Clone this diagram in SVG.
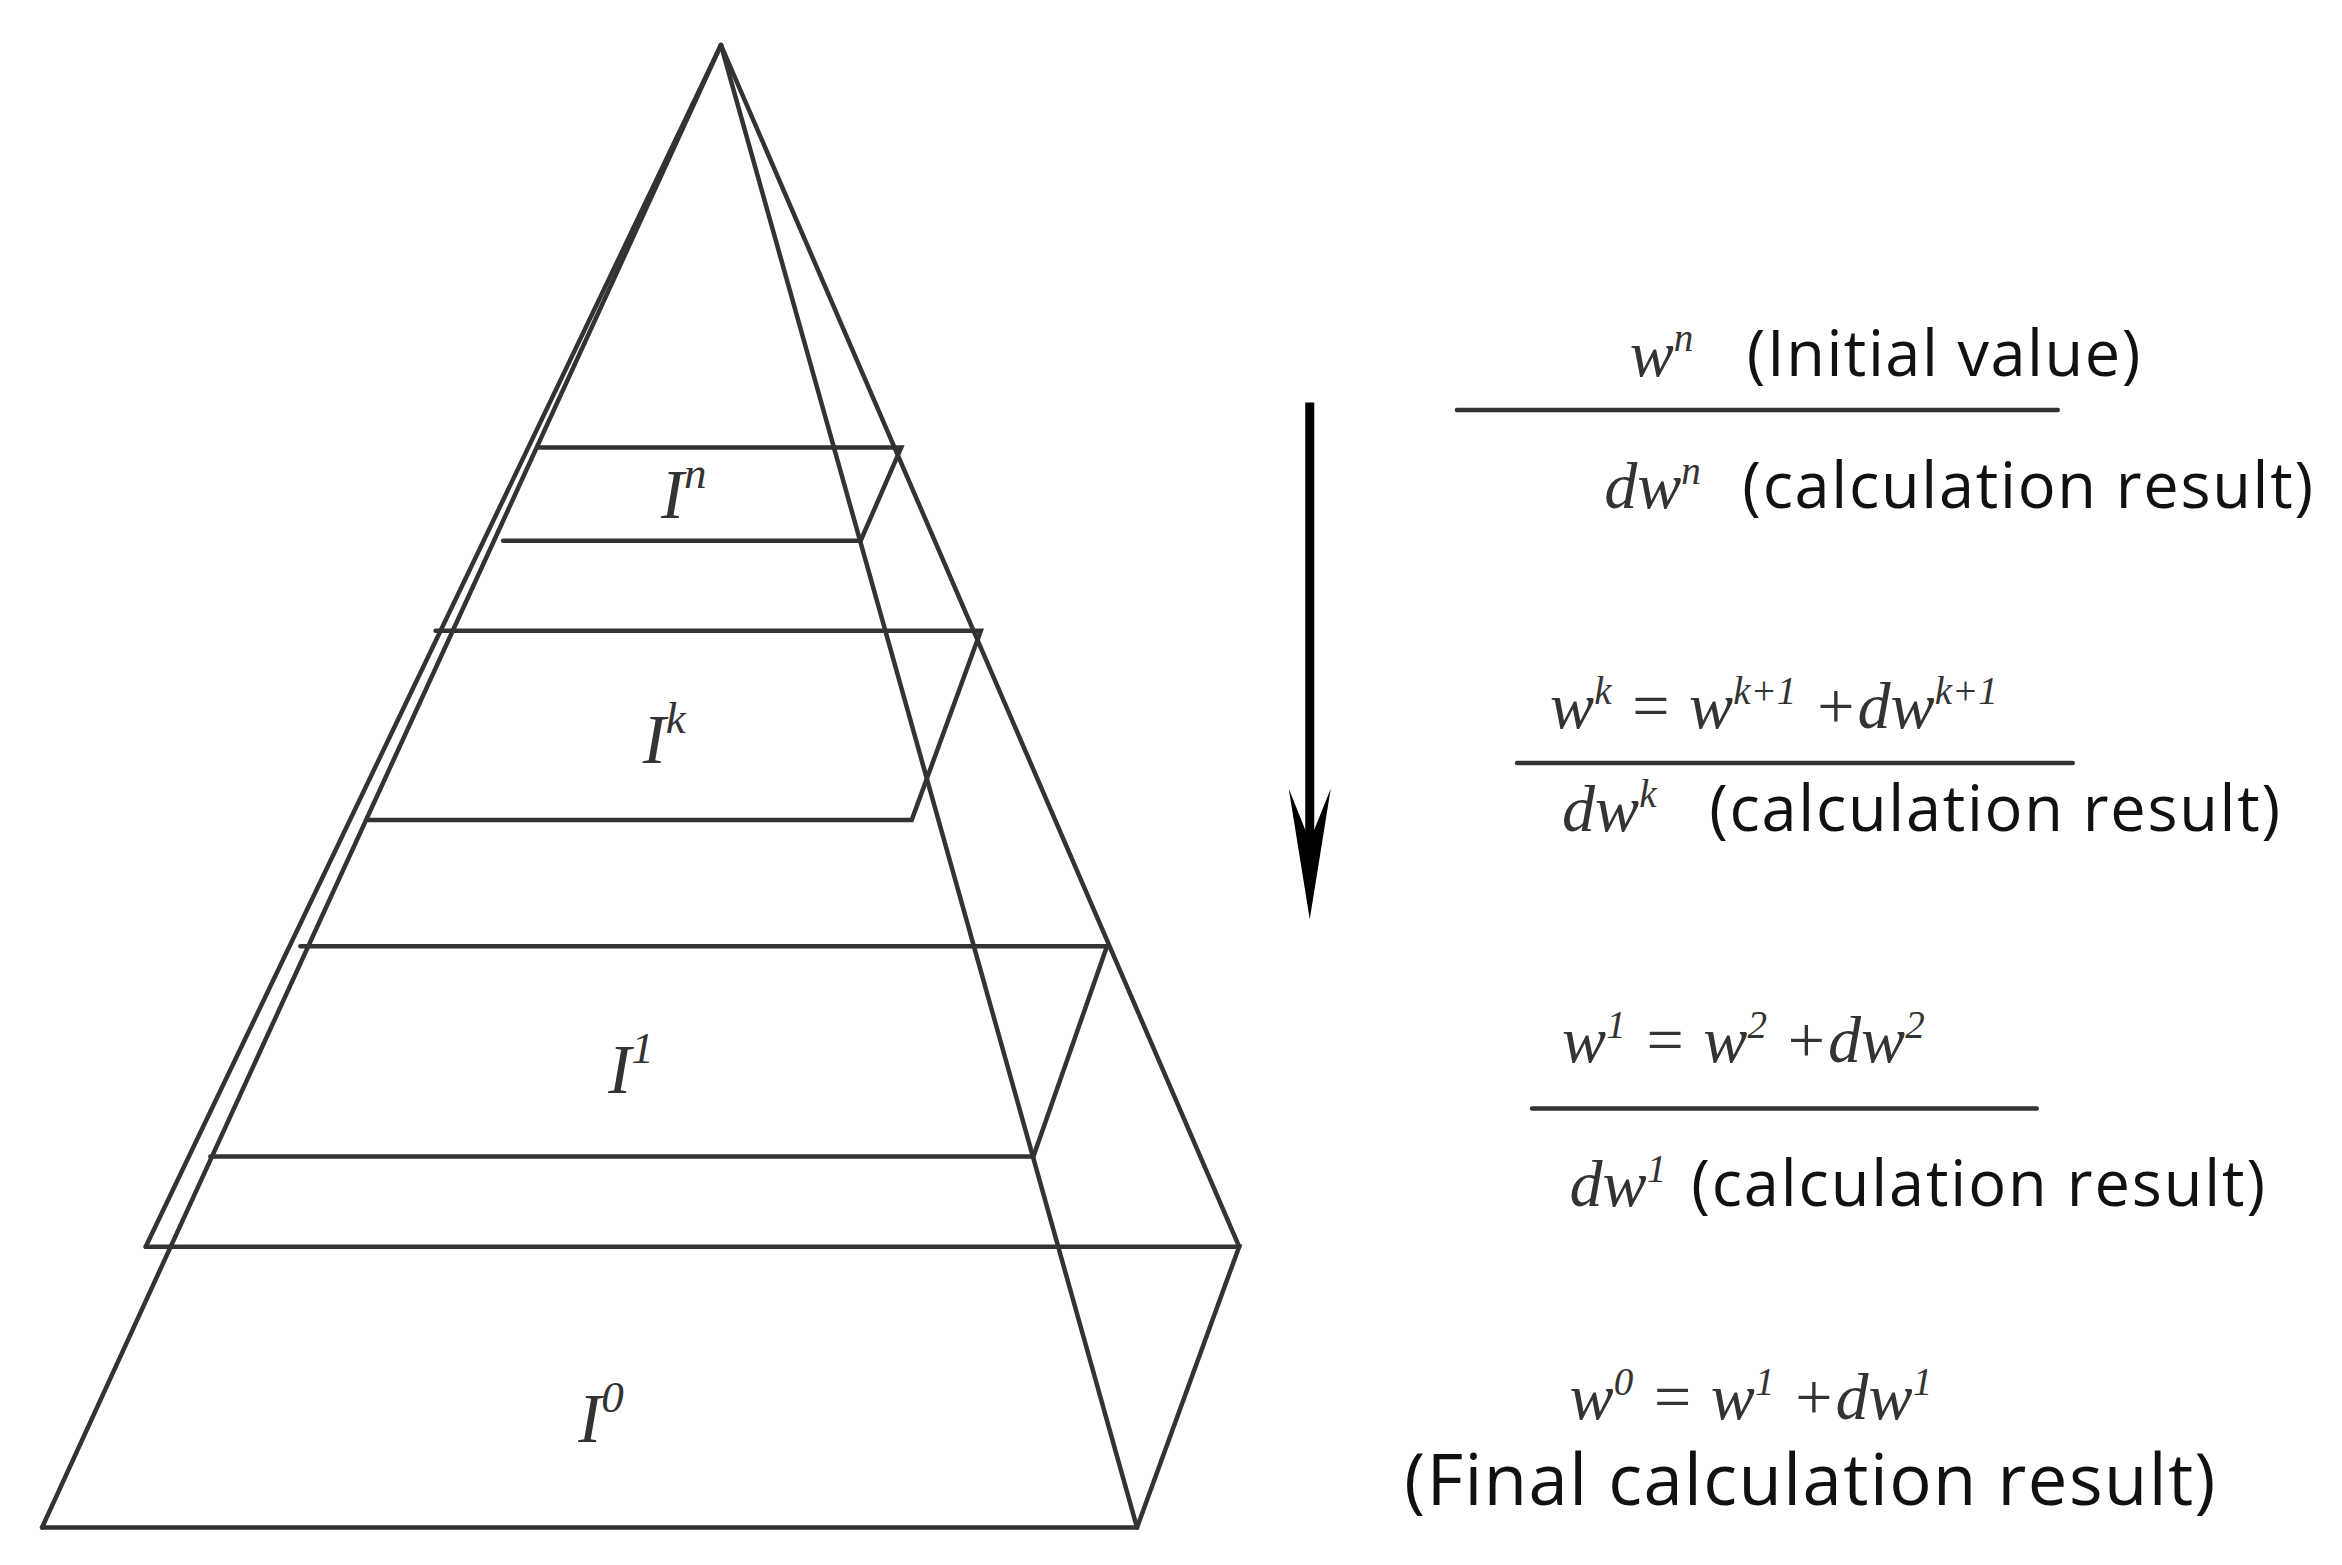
<svg xmlns="http://www.w3.org/2000/svg" width="2342" height="1565" viewBox="0 0 2342 1565">
<style>
.l{stroke:#333;stroke-width:3;fill:none;stroke-linecap:round}
.m{font-family:"Liberation Serif",serif;font-style:italic;fill:#333}
.t{font-family:"Open Sans","Liberation Sans",sans-serif;font-size:42px;fill:#111}
</style>
<rect width="2342" height="1565" fill="#fff"/>
<g transform="scale(1.502)">
<g id="pyramid">
<line class="l" x1="480" y1="30" x2="28" y2="1017"/>
<line class="l" x1="480" y1="30" x2="97" y2="830"/>
<line class="l" x1="480" y1="30" x2="757" y2="1017"/>
<line class="l" x1="480" y1="30" x2="825" y2="830"/>
</g>
<g id="layer-n">
<polyline class="l" points="358,298 600,298 573,360 335,360"/>
<text class="m" x="440" y="345" font-size="46">I<tspan dy="-20" font-size="30">n</tspan></text>
</g>
<g id="layer-k">
<polyline class="l" points="290,420 653,420 607,546 245,546"/>
<text class="m" x="428" y="508" font-size="46">I<tspan dy="-20" font-size="30">k</tspan></text>
</g>
<g id="layer-1">
<polyline class="l" points="200,630 737,630 688,770 140,770"/>
<text class="m" x="405" y="728" font-size="46">I<tspan dy="-20" font-size="30">1</tspan></text>
</g>
<g id="layer-0">
<polyline class="l" points="28,1017 757,1017 825,830 97,830"/>
<text class="m" x="385" y="960" font-size="46">I<tspan dy="-20" font-size="30">0</tspan></text>
</g>
<g id="connectors">
<line x1="872" y1="268" x2="872" y2="560" stroke="#000" stroke-width="6"/>
<polygon points="858,525 872,612 886,525 872,560" fill="#000"/>
</g>
<g id="eq-n">
<text class="m" x="1085" y="250" font-size="44">w<tspan dy="-16" font-size="26">n</tspan></text>
<text class="t" x="1163" y="250" textLength="262">(Initial value)</text>
<line class="l" x1="970" y1="273" x2="1370" y2="273" stroke-width="2"/>
<text class="m" x="1068" y="338" font-size="44">dw<tspan dy="-16" font-size="26">n</tspan></text>
<text class="t" x="1160" y="338" textLength="380">(calculation result)</text>
</g>
<g id="eq-k">
<text class="m" x="1032" y="485" font-size="44">w<tspan dy="-16" font-size="26">k</tspan><tspan dy="16"> = w</tspan><tspan dy="-16" font-size="26">k+1</tspan><tspan dy="16"> +dw</tspan><tspan dy="-16" font-size="26">k+1</tspan></text>
<line class="l" x1="1010" y1="508" x2="1380" y2="508" stroke-width="2"/>
<text class="m" x="1040" y="553" font-size="44">dw<tspan dy="-16" font-size="26">k</tspan></text>
<text class="t" x="1138" y="553" textLength="380">(calculation result)</text>
</g>
<g id="eq-1">
<text class="m" x="1040" y="707" font-size="44">w<tspan dy="-16" font-size="26">1</tspan><tspan dy="16"> = w</tspan><tspan dy="-16" font-size="26">2</tspan><tspan dy="16"> +dw</tspan><tspan dy="-16" font-size="26">2</tspan></text>
<line class="l" x1="1020" y1="738" x2="1356" y2="738" stroke-width="2"/>
<text class="m" x="1045" y="803" font-size="44">dw<tspan dy="-16" font-size="26">1</tspan></text>
<text class="t" x="1126" y="803" textLength="382">(calculation result)</text>
</g>
<g id="eq-0">
<text class="m" x="1045" y="945" font-size="44">w<tspan dy="-16" font-size="26">0</tspan><tspan dy="16"> = w</tspan><tspan dy="-16" font-size="26">1</tspan><tspan dy="16"> +dw</tspan><tspan dy="-16" font-size="26">1</tspan></text>
<text class="t" x="935" y="1002" style="font-size:47px" textLength="540">(Final calculation result)</text>
</g>
</g>
</svg>
